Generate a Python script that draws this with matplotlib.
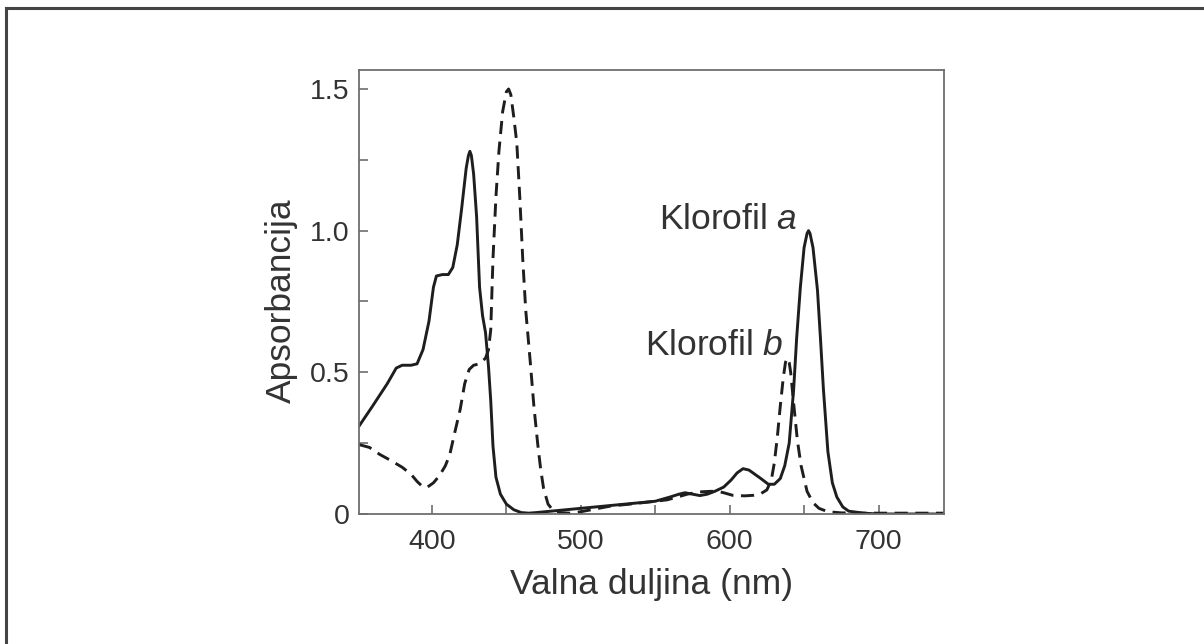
import matplotlib.pyplot as plt
from matplotlib.lines import Line2D

plt.rcParams['font.family'] = ['Liberation Sans', 'DejaVu Sans']
plt.rcParams['mathtext.fontset'] = 'custom'
plt.rcParams['mathtext.rm'] = 'Liberation Sans'
plt.rcParams['mathtext.it'] = 'Liberation Sans:italic'

# chlorophyll a (solid)
wl_a = [351, 360, 370, 376, 380, 386, 390, 394, 398, 401, 403, 407, 411, 414, 417,
        420, 423, 424.5, 425.5, 426.5, 428, 430, 432, 434, 436, 438, 439.5, 441, 443,
        446, 450, 455, 460, 465, 470, 480, 490, 500, 510, 520, 530, 540, 550, 560, 566,
        570, 575, 580, 585, 590, 596, 601, 605, 609, 613, 617, 621, 626, 630, 634, 637,
        640, 643, 645, 647.5, 650, 652, 653, 654, 656, 659, 661, 663, 666, 669, 672,
        676, 680, 690, 700, 745]
abs_a = [0.31, 0.38, 0.46, 0.515, 0.525, 0.525, 0.53, 0.58, 0.68, 0.80, 0.84, 0.845,
         0.845, 0.87, 0.95, 1.08, 1.22, 1.265, 1.28, 1.265, 1.20, 1.05, 0.80, 0.70,
         0.64, 0.52, 0.40, 0.24, 0.13, 0.07, 0.035, 0.015, 0.005, 0.003, 0.005, 0.01,
         0.015, 0.02, 0.025, 0.03, 0.035, 0.04, 0.045, 0.06, 0.07, 0.075, 0.07, 0.065,
         0.07, 0.08, 0.095, 0.12, 0.145, 0.16, 0.155, 0.14, 0.125, 0.105, 0.105, 0.125,
         0.17, 0.25, 0.44, 0.62, 0.80, 0.94, 0.99, 1.0, 0.99, 0.94, 0.79, 0.62, 0.44,
         0.22, 0.11, 0.06, 0.025, 0.01, 0.003, 0.0, 0.0]

# chlorophyll b (dashed)
wl_b = [351, 358, 365, 372, 380, 386, 390, 394, 397, 401, 405, 409, 412, 415, 419,
        422, 425, 428, 432, 436, 438, 439.5, 441, 443, 445, 447.5, 450, 451.5, 453,
        455, 457, 459, 461, 463, 466, 468.5, 471, 473, 475, 478, 481, 486, 492, 500,
        510, 520, 535, 550, 558, 565, 571.5, 580, 587, 592, 596, 602, 610, 616, 621,
        625, 628, 630, 632, 634, 636, 637.5, 638.7, 640, 641, 643, 645.5, 648, 652,
        656, 660, 666, 675, 690, 745]
abs_b = [0.245, 0.235, 0.21, 0.19, 0.165, 0.14, 0.115, 0.095, 0.095, 0.11, 0.135, 0.17,
         0.21, 0.28, 0.37, 0.46, 0.51, 0.525, 0.53, 0.55, 0.58, 0.65, 0.90, 1.12, 1.28,
         1.42, 1.49, 1.5, 1.48, 1.40, 1.31, 1.12, 0.90, 0.72, 0.54, 0.38, 0.25, 0.16,
         0.09, 0.035, 0.015, 0.005, 0.003, 0.008, 0.018, 0.028, 0.036, 0.045, 0.05,
         0.06, 0.07, 0.078, 0.08, 0.08, 0.075, 0.066, 0.064, 0.066, 0.072, 0.085, 0.12,
         0.18, 0.27, 0.38, 0.48, 0.535, 0.55, 0.535, 0.50, 0.39, 0.26, 0.17, 0.08, 0.04,
         0.02, 0.008, 0.004, 0.003, 0.003]

x_labels = [400, 500, 600, 700]
y_labels = [0, 0.5, 1.0, 1.5]
y_label_text = ['0', '0.5', '1.0', '1.5']

text_col = '#333333'
line_col = '#1e1e1e'
spine_col = '#6e6e6e'

fig = plt.figure(figsize=(12.04, 6.44), dpi=100)
ax = fig.add_axes([359 / 1204, 1 - 514 / 644, 585 / 1204, 444 / 644])

ax.plot(wl_a, abs_a, color=line_col, lw=2.1, solid_joinstyle='round')
ax.plot(wl_b, abs_b, color=line_col, lw=2.1, linestyle=(0, (4.5, 2.6)))

ax.set_xlim(351, 744)
ax.set_ylim(0, 1.567)

ax.set_xticks(x_labels)
ax.set_xticklabels([str(v) for v in x_labels])
ax.set_xticks([450, 550, 650], minor=True)
ax.set_yticks(y_labels)
ax.set_yticklabels(y_label_text)
ax.set_yticks([0.25, 0.75, 1.25], minor=True)

ax.tick_params(which='both', direction='in', length=6.5, width=1.2, color=spine_col,
               labelsize=20.5, labelcolor=text_col)
ax.tick_params(axis='x', pad=11)
ax.tick_params(axis='y', pad=7)
for s in ax.spines.values():
    s.set_color(spine_col)
    s.set_linewidth(1.3)

ax.set_xlabel('Valna duljina (nm)', fontsize=25.5, color=text_col, labelpad=9)
ax.set_ylabel('Apsorbancija', fontsize=25.5, color=text_col)
ax.yaxis.set_label_coords(-0.104, 0.48)

ax.text(645.5, 1.04, r'Klorofil $\mathit{a}$', fontsize=25.5, color=text_col,
        ha='right', va='center')
ax.text(636, 0.595, r'Klorofil $\mathit{b}$', fontsize=25.5, color=text_col,
        ha='right', va='center')

# outer frame (top and left edges)
fig.add_artist(Line2D([6 / 1204, 1.0], [1 - 8 / 644, 1 - 8 / 644],
                      transform=fig.transFigure, color='#444444', lw=2.2))
fig.add_artist(Line2D([6 / 1204, 6 / 1204], [1 - 8 / 644, 0.0],
                      transform=fig.transFigure, color='#444444', lw=2.2))

fig.savefig('out.png', dpi=100)
